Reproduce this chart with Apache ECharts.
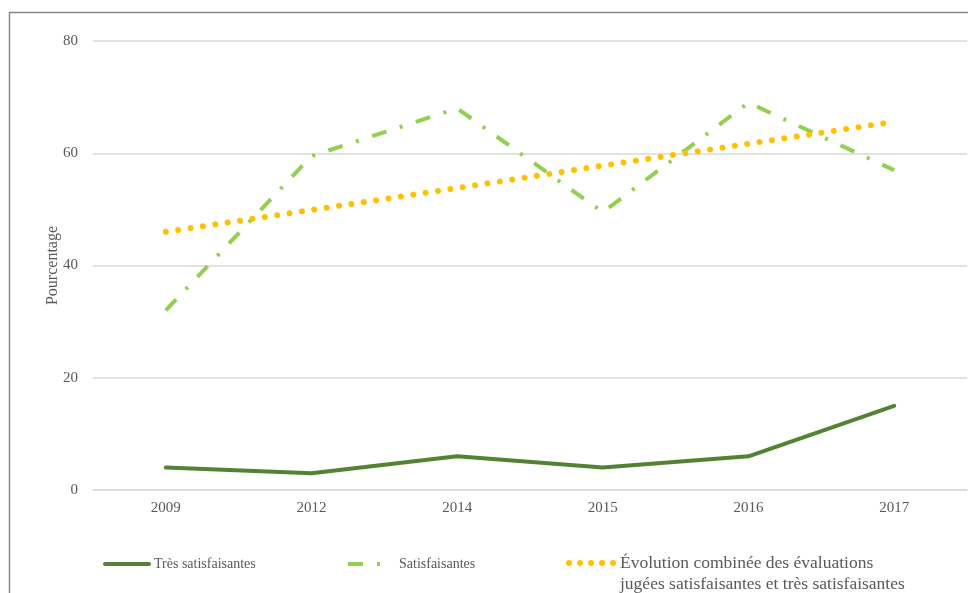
<!DOCTYPE html>
<html>
<head>
<meta charset="utf-8">
<script src="https://cdn.jsdelivr.net/npm/echarts@6/dist/echarts.min.js"></script>
<style>
html,body{margin:0;padding:0;background:#fff;}
#chart{width:968px;height:593px;}
</style>
</head>
<body>
<div id="chart"></div>
<script>
const categories = ['2009', '2012', '2014', '2015', '2016', '2017'];
const tresSatisfaisantes = [4, 3, 6, 4, 6, 15];
const satisfaisantes = [32, 59.5, 68, 49.5, 69, 57];
const evolutionCombinee = [46, 49.9, 53.8, 57.8, 61.7, 65.6];
const yTicks = { min: 0, max: 80, interval: 20 };

const nameTres = 'Très satisfaisantes';
const nameSatis = 'Satisfaisantes';
const nameEvol = 'Évolution combinée des évaluations jugées satisfaisantes et très satisfaisantes';
const evolLine1 = 'Évolution combinée des évaluations';
const evolLine2 = 'jugées satisfaisantes et très satisfaisantes';

const FONT = '"Liberation Serif", "Times New Roman", serif';
const TXT = '#595959';

const styleTres = { color: '#548235', width: 4, cap: 'round', join: 'round' };
const styleSatis = { color: '#92d050', width: 4, type: [15, 14, 3, 14], cap: 'butt', join: 'round' };
const styleEvol = { color: '#ffc000', width: 6, type: [0.01, 12.5], cap: 'round' };
const hiddenSymbol = { color: 'rgba(0,0,0,0)', borderWidth: 0, opacity: 0 };

const chart = echarts.init(document.getElementById('chart'), null, { renderer: 'canvas' });
chart.setOption({
  backgroundColor: '#ffffff',
  animation: false,
  graphic: [
    {
      type: 'rect',
      shape: { x: 9.5, y: 12.5, width: 1000, height: 1000 },
      style: { fill: 'none', stroke: '#868686', lineWidth: 1.5 },
      silent: true,
      z: -10
    },
    {
      type: 'text',
      left: 620,
      top: 575,
      style: { text: evolLine2, fill: TXT, font: '17.5px ' + FONT },
      silent: true
    }
  ],
  grid: { left: 93, right: 1, top: 41, bottom: 103, containLabel: false },
  xAxis: {
    type: 'category',
    data: categories,
    boundaryGap: true,
    axisLine: { lineStyle: { color: '#d9d9d9', width: 1.5 } },
    axisTick: { show: false },
    axisLabel: { color: TXT, fontFamily: FONT, fontSize: 15, margin: 11 }
  },
  yAxis: {
    type: 'value',
    min: yTicks.min, max: yTicks.max, interval: yTicks.interval,
    name: 'Pourcentage',
    nameLocation: 'middle',
    nameGap: 32,
    nameMoveOverlap: false,
    nameTextStyle: { color: TXT, fontFamily: FONT, fontSize: 16 },
    axisLine: { show: false },
    axisTick: { show: false },
    splitLine: { lineStyle: { color: '#d9d9d9', width: 1.5 } },
    axisLabel: { color: TXT, fontFamily: FONT, fontSize: 15, margin: 15 }
  },
  legend: [
    {
      data: [nameTres], left: 98, top: 552, itemWidth: 44, itemHeight: 14,
      itemStyle: hiddenSymbol, lineStyle: styleTres,
      textStyle: { color: TXT, fontFamily: FONT, fontSize: 14 }
    },
    {
      data: [nameSatis], left: 341, top: 552, itemWidth: 46, itemHeight: 14,
      itemStyle: hiddenSymbol, lineStyle: styleSatis,
      textStyle: { color: TXT, fontFamily: FONT, fontSize: 14 }
    },
    {
      data: [nameEvol], left: 561, top: 549, itemWidth: 46, itemHeight: 14,
      itemStyle: hiddenSymbol, lineStyle: { color: '#ffc000', width: 6, type: [0.01, 11], cap: 'round' },
      formatter: function () { return evolLine1; },
      textStyle: { color: TXT, fontFamily: FONT, fontSize: 17.5 }
    }
  ],
  series: [
    {
      name: nameTres, type: 'line', data: tresSatisfaisantes, symbol: 'none',
      itemStyle: { color: '#548235' }, lineStyle: styleTres
    },
    {
      name: nameSatis, type: 'line', data: satisfaisantes, symbol: 'none',
      itemStyle: { color: '#92d050' }, lineStyle: styleSatis
    },
    {
      name: nameEvol, type: 'line', data: evolutionCombinee, symbol: 'none',
      itemStyle: { color: '#ffc000' }, lineStyle: styleEvol
    }
  ]
});
</script>
</body>
</html>
